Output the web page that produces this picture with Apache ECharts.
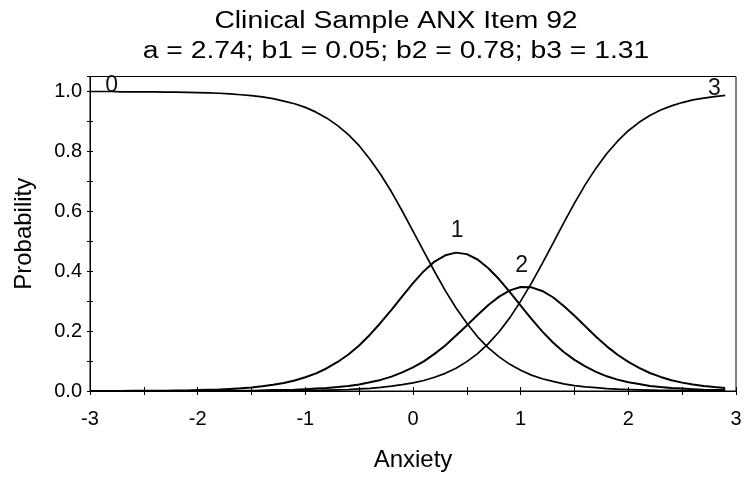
<!DOCTYPE html>
<html>
<head>
<meta charset="utf-8">
<script src="https://cdn.jsdelivr.net/npm/echarts@6/dist/echarts.min.js"></script>
<style>
html,body{margin:0;padding:0;background:#fff;}
#chart{width:746px;height:477px;}
</style>
</head>
<body>
<div id="chart"></div>
<script>
// Anxiety (theta) grid
var thetas = [
-3.0,-2.9,-2.8,-2.7,-2.6,-2.5,-2.4,-2.3,-2.2,-2.1,
-2.0,-1.9,-1.8,-1.7,-1.6,-1.5,-1.4,-1.3,-1.2,-1.1,
-1.0,-0.9,-0.8,-0.7,-0.6,-0.5,-0.4,-0.3,-0.2,-0.1,
0.0,0.1,0.2,0.3,0.4,0.5,0.6,0.7,0.8,0.9,
1.0,1.1,1.2,1.3,1.4,1.5,1.6,1.7,1.8,1.9,
2.0,2.1,2.2,2.3,2.4,2.5,2.6,2.7,2.8,2.9
];
// Category 0 probability
var p0 = [
1.000,1.000,1.000,0.999,0.999,0.999,0.999,0.998,0.998,0.997,
0.996,0.995,0.994,0.992,0.989,0.986,0.982,0.976,0.968,0.959,
0.947,0.931,0.911,0.886,0.856,0.819,0.774,0.723,0.665,0.601,
0.534,0.466,0.399,0.335,0.277,0.226,0.181,0.144,0.114,0.089,
0.069,0.053,0.041,0.032,0.024,0.018,0.014,0.011,0.008,0.006,
0.005,0.004,0.003,0.002,0.002,0.001,0.001,0.001,0.001,0.000
];
// Category 1 probability
var p1 = [
0.000,0.000,0.000,0.000,0.001,0.001,0.001,0.001,0.002,0.002,
0.003,0.004,0.005,0.007,0.009,0.012,0.016,0.021,0.027,0.035,
0.046,0.059,0.076,0.097,0.122,0.152,0.188,0.228,0.271,0.316,
0.360,0.400,0.432,0.453,0.462,0.457,0.439,0.410,0.373,0.330,
0.285,0.241,0.199,0.162,0.130,0.104,0.082,0.064,0.049,0.038,
0.029,0.023,0.017,0.013,0.010,0.008,0.006,0.004,0.003,0.003
];
// Category 2 probability
var p2 = [
0.000,0.000,0.000,0.000,0.000,0.000,0.000,0.000,0.000,0.000,
0.000,0.000,0.001,0.001,0.001,0.001,0.002,0.003,0.003,0.004,
0.006,0.008,0.010,0.013,0.017,0.022,0.029,0.037,0.048,0.062,
0.079,0.099,0.124,0.152,0.185,0.219,0.254,0.287,0.315,0.336,
0.347,0.346,0.334,0.313,0.284,0.251,0.216,0.181,0.149,0.121,
0.097,0.077,0.060,0.047,0.036,0.028,0.022,0.017,0.013,0.010
];
// Category 3 probability
var p3 = [
0.000,0.000,0.000,0.000,0.000,0.000,0.000,0.000,0.000,0.000,
0.000,0.000,0.000,0.000,0.000,0.000,0.001,0.001,0.001,0.001,
0.002,0.002,0.003,0.004,0.005,0.007,0.009,0.012,0.016,0.021,
0.027,0.035,0.046,0.059,0.076,0.098,0.125,0.158,0.198,0.245,
0.300,0.360,0.425,0.493,0.561,0.627,0.689,0.744,0.793,0.834,
0.869,0.897,0.920,0.938,0.952,0.963,0.972,0.978,0.983,0.987
];
// Curve labels (text and anchor in data units)
var curveLabels = ['0','1','2','3'];
var curveLabelX = [-2.80, 0.41, 1.01, 2.80];
var curveLabelY = [1.02, 0.535, 0.418, 1.01];

var titleLine1 = 'Clinical Sample ANX Item 92';
var titleLine2 = 'a = 2.74; b1 = 0.05; b2 = 0.78; b3 = 1.31';
var xName = 'Anxiety';
var yName = 'Probability';

var FONT = '"Liberation Sans", Arial, sans-serif';
var INK = '#000';

function pairs(arr){ return thetas.map(function(t,i){ return [t, arr[i]]; }); }
function lineSeries(name, arr, w){
  return {
    name: name, type: 'line', data: pairs(arr), symbol: 'none', showSymbol: false,
    smooth: false, lineStyle: {color: INK, width: w}, itemStyle: {color: INK},
    xAxisIndex: 0, yAxisIndex: 0, z: 3, silent: true
  };
}

var chart = echarts.init(document.getElementById('chart'), null, {renderer: 'canvas'});
var option = {
  animation: false,
  backgroundColor: '#ffffff',
  grid: {left: 90, right: 10, top: 76.5, bottom: 85.5, show: true, borderColor: '#000', borderWidth: 1, backgroundColor: 'transparent'},
  graphic: [
    {type: 'text', x: 396, y: 22, scaleX: 1.23, scaleY: 1,
     style: {text: titleLine1, font: '23px ' + FONT, fill: INK, textAlign: 'center', textVerticalAlign: 'middle', align: 'center', verticalAlign: 'middle'}},
    {type: 'text', x: 396, y: 52, scaleX: 1.23, scaleY: 1,
     style: {text: titleLine2, font: '23px ' + FONT, fill: INK, textAlign: 'center', textVerticalAlign: 'middle', align: 'center', verticalAlign: 'middle'}}
  ],
  xAxis: [
    {
      type: 'value', min: -3, max: 3, interval: 0.5, position: 'bottom',
      name: xName, nameLocation: 'middle', nameGap: 57,
      nameTextStyle: {fontSize: 24, fontFamily: FONT, color: INK},
      axisLine: {show: true, onZero: false, lineStyle: {color: INK, width: 1}},
      axisTick: {show: true, inside: false, length: 4, lineStyle: {color: INK, width: 1}},
      axisLabel: {show: true, margin: 18, fontSize: 20, fontFamily: FONT, color: INK,
        formatter: function(v){ return Math.abs(v - Math.round(v)) < 1e-6 ? String(Math.round(v)) : ''; }},
      splitLine: {show: false}
    },
    {
      type: 'value', min: -3, max: 3, interval: 0.5, position: 'bottom', gridIndex: 0,
      axisLine: {show: false, onZero: false},
      axisTick: {show: true, inside: true, length: 4, lineStyle: {color: INK, width: 1}},
      axisLabel: {show: false}, splitLine: {show: false}
    }
  ],
  yAxis: [
    {
      type: 'value', min: 0, max: 1.05, interval: 0.1, position: 'left',
      name: yName, nameLocation: 'middle', nameGap: 54, nameRotate: 90,
      nameTextStyle: {fontSize: 24, fontFamily: FONT, color: INK},
      axisLine: {show: true, onZero: false, lineStyle: {color: INK, width: 1}},
      axisTick: {show: true, inside: false, length: 3, lineStyle: {color: INK, width: 1}},
      axisLabel: {show: true, margin: 8, fontSize: 20, fontFamily: FONT, color: INK,
        formatter: function(v){ var n = Math.round(v * 10); return (n % 2 === 0 && v <= 1.0001 && Math.abs(v*10 - n) < 1e-6) ? v.toFixed(1) : ''; }},
      splitLine: {show: false}
    },
    {
      type: 'value', min: 0, max: 1.05, interval: 0.1, position: 'left', gridIndex: 0,
      axisLine: {show: false, onZero: false},
      axisTick: {show: true, inside: true, length: 3, lineStyle: {color: INK, width: 1}},
      axisLabel: {show: false}, splitLine: {show: false}
    }
  ],
  series: [
    lineSeries('0', p0, 1.7),
    lineSeries('1', p1, 2),
    lineSeries('2', p2, 2),
    lineSeries('3', p3, 1.7),
    {
      name: 'labels', type: 'scatter', symbolSize: 0, silent: true, z: 5,
      xAxisIndex: 0, yAxisIndex: 0,
      itemStyle: {color: '#000', opacity: 1},
      data: curveLabelX.map(function(x, i){ return [x, curveLabelY[i], curveLabels[i]]; }),
      label: {show: true, position: 'inside', fontSize: 23, fontFamily: FONT, color: '#111', opacity: 1,
        formatter: function(p){ return p.data[2]; }}
    }
  ]
};
chart.setOption(option);
</script>
</body>
</html>
